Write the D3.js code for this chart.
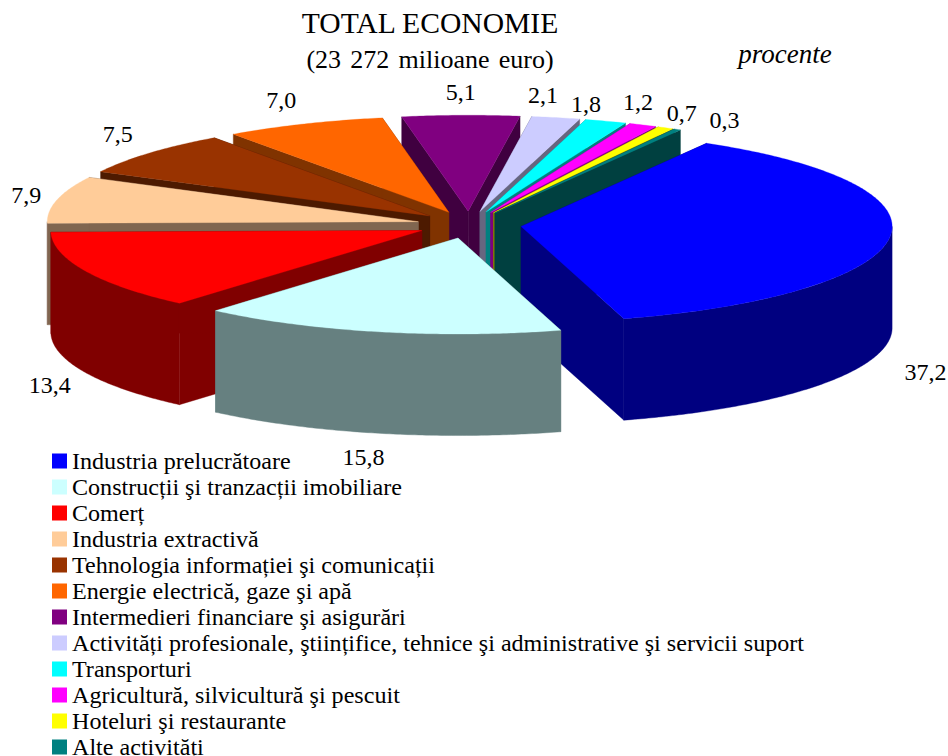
<!DOCTYPE html>
<html><head><meta charset="utf-8">
<script src="https://cdn.jsdelivr.net/npm/d3@7"></script>
<style>html,body{margin:0;padding:0;background:#fff;overflow:hidden}svg{display:block}text{font-family:"Liberation Serif",serif;fill:#000}</style>
</head><body>
<script>
const categories = ["Industria prelucrătoare","Construcții şi tranzacții imobiliare","Comerț","Industria extractivă","Tehnologia informației şi comunicații","Energie electrică, gaze şi apă","Intermedieri financiare şi asigurări","Activități profesionale, ştiințifice, tehnice şi administrative şi servicii suport","Transporturi","Agricultură, silvicultură şi pescuit","Hoteluri şi restaurante","Alte activități"];
const values = [37.2,15.8,13.4,7.9,7.5,7.0,5.1,2.1,1.8,1.2,0.7,0.3];
const topColors = ["#0000FF","#CCFFFF","#FF0000","#FFCC99","#993300","#FF6600","#800080","#CCCCFF","#00FFFF","#FF00FF","#FFFF00","#008080"];
const sideColors = ["#000080","#668080","#800000","#806650","#4D1A00","#803300","#400040","#666680","#008080","#800080","#808000","#004040"];
const labelNudges = [[36,134],[-15,125],[-36,114],[-31,-5],[-32,-19],[-23,-24],[0,-23],[-13,-23],[-20,-17],[-5,-23],[16,-15],[47,-9]];

const W=948,H=756, cx=469.2, cy=224.8, rx=371, tilt=96/371, depth=101.5, explode=52.3;
const svg=d3.select("body").append("svg").attr("width",W).attr("height",H);
svg.append("rect").attr("width",W).attr("height",H).attr("fill","#fff");

const start=30*Math.PI/180;
const pie=d3.pie().sort(null).value(d=>d).startAngle(start).endAngle(start+2*Math.PI);
const arcs=pie(values).map((a,i)=>({...a,i,mid:(a.startAngle+a.endAngle)/2}));
const sx=d3.scaleLinear().domain([-1,1]).range([cx-rx,cx+rx]);
const sy=d3.scaleLinear().domain([-1,1]).range([cy-rx*tilt,cy+rx*tilt]);
const off=a=>[explode*Math.sin(a),-explode*tilt*Math.cos(a)];
const pt=(a,mid,z=0,r=1)=>{const o=off(mid);return [sx(r*Math.sin(a))+o[0],sy(-r*Math.cos(a))+o[1]+z];};
const line=d3.line();
const samples=(a0,a1)=>{const n=Math.max(2,Math.ceil((a1-a0)/0.01));return d3.range(n+1).map(k=>a0+(a1-a0)*k/n);};

const order=arcs.slice().sort((p,q)=>(-Math.cos(p.mid))-(-Math.cos(q.mid)));
const g=svg.append("g");
order.forEach(d=>{
  const s=g.append("g"), c=sideColors[d.i], t=topColors[d.i];
  const face=a=>{
    const path=[pt(a,d.mid,0,0),pt(a,d.mid,0,1),pt(a,d.mid,depth,1),pt(a,d.mid,depth,0)];
    s.append("path").attr("d",line(path)+"Z").attr("fill",c).attr("stroke",c).attr("stroke-width",.4);
  };
  face(d.startAngle); face(d.endAngle);
  const a0=Math.max(d.startAngle,Math.PI/2),a1=Math.min(d.endAngle,3*Math.PI/2);
  if(a1>a0){
    const as=samples(a0,a1);
    const path=as.map(a=>pt(a,d.mid,0)).concat(as.slice().reverse().map(a=>pt(a,d.mid,depth)));
    s.append("path").attr("d",line(path)+"Z").attr("fill",c).attr("stroke",c).attr("stroke-width",.4);
  }
  const as=samples(d.startAngle,d.endAngle);
  const top=[pt(0,d.mid,0,0)].concat(as.map(a=>pt(a,d.mid,0)));
  s.append("path").attr("d",line(top)+"Z").attr("fill",t).attr("stroke",t).attr("stroke-width",.3);
});

// data labels
const fmt=v=>v.toFixed(1).replace(".",",");
svg.append("g").selectAll("text").data(arcs).join("text")
  .attr("x",d=>cx+(rx+explode)*Math.sin(d.mid)+labelNudges[d.i][0])
  .attr("y",d=>cy-(rx+explode)*tilt*Math.cos(d.mid)+labelNudges[d.i][1])
  .attr("text-anchor","middle").attr("dominant-baseline","central")
  .attr("font-size",24).text(d=>fmt(d.value));

// titles
svg.append("text").attr("x",430).attr("y",33).attr("text-anchor","middle").attr("font-size",29.6).text("TOTAL ECONOMIE");
svg.append("text").attr("x",430).attr("y",68).attr("text-anchor","middle").attr("font-size",26).attr("word-spacing",2.7).text("(23 272 milioane euro)");
svg.append("text").attr("x",785).attr("y",63).attr("text-anchor","middle").attr("font-size",27).attr("font-style","italic").text("procente");

// legend
const ly=d3.scalePoint().domain(categories).range([461,747]);
const lg=svg.append("g").selectAll("g").data(categories).join("g").attr("transform",d=>`translate(0,${ly(d)})`);
lg.append("rect").attr("x",52).attr("y",-7.5).attr("width",15).attr("height",15).attr("fill",(d,i)=>topColors[i]);
lg.append("text").attr("x",72).attr("y",7.5).attr("font-size",24.1).text(d=>d);
</script>
</body></html>
